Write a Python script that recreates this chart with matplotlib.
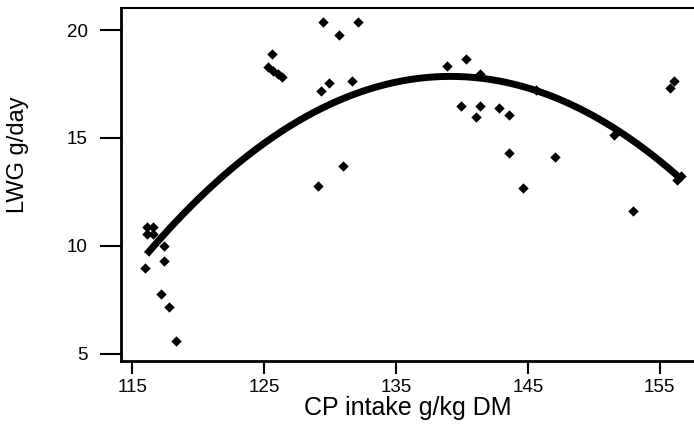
import numpy as np
import matplotlib
matplotlib.use("Agg")
import matplotlib.pyplot as plt

plt.rcParams['font.family'] = ['Liberation Sans', 'DejaVu Sans']

# CP intake (g/kg DM) and LWG (g/day) observations
cp_intake = [129.5, 132.1, 130.7, 125.6, 125.3, 125.7, 126.1, 126.4,
             129.3, 129.9, 131.7, 131.0, 129.1,
             138.9, 140.3, 141.35, 145.6, 139.9, 141.35, 141.1, 142.8,
             143.6, 143.6, 147.1, 144.6, 151.5, 156.05, 155.8, 156.3,
             156.6, 153.0,
             116.1, 116.6, 116.1, 116.6, 117.45, 117.45, 116.0, 117.2,
             117.8, 118.3]
lwg = [20.38, 20.38, 19.77, 18.87, 18.3, 18.1, 17.95, 17.8,
       17.19, 17.53, 17.64, 13.72, 12.79,
       18.33, 18.64, 17.96, 17.22, 16.48, 16.48, 15.96, 16.37,
       16.07, 14.32, 14.13, 12.67, 15.14, 17.62, 17.3, 13.05,
       13.25, 11.63,
       10.87, 10.87, 10.56, 10.56, 10.01, 9.31, 8.98, 7.75,
       7.14, 5.6]

# Quadratic fit: y = peak_y - curv * (x - peak_x)^2
fit_peak_x = 139.13
fit_peak_y = 17.85
fit_curv = 0.01555
fit_range = [116.1, 156.6]

x_ticks = [115, 125, 135, 145, 155]
y_ticks = [5, 10, 15, 20]

fig = plt.figure(figsize=(6.94, 4.30), dpi=100)
ax = fig.add_axes([121/694, 1 - 361/430, (694-121)/694, (361-8)/430])

ax.scatter(cp_intake, lwg, marker='D', s=28, color='black', linewidths=0, zorder=3)

xf = np.linspace(fit_range[0], fit_range[1], 200)
yf = fit_peak_y - fit_curv * (xf - fit_peak_x) ** 2
ax.plot(xf, yf, color='black', linewidth=5, solid_capstyle='butt', zorder=2)

ax.set_xlim(114.16, 157.6)
ax.set_ylim(4.66, 21.02)
ax.set_xticks(x_ticks)
ax.set_yticks(y_ticks)
ax.set_xticklabels([str(t) for t in x_ticks])
ax.set_yticklabels([str(t) for t in y_ticks])

for s in ['left', 'bottom']:
    ax.spines[s].set_linewidth(2)
ax.spines['top'].set_linewidth(1.5)
ax.spines['right'].set_visible(False)

ax.tick_params(axis='x', length=9, width=1.5, labelsize=13.5, pad=4)
ax.tick_params(axis='y', length=15, width=1.5, labelsize=13.5, pad=9)

ax.set_xlabel('CP intake g/kg DM', fontsize=18, labelpad=0)
ax.set_ylabel('LWG g/day', fontsize=17)
ax.yaxis.set_label_coords((29 - 121) / 573, (361 - 155) / 353)

fig.savefig('out.png', dpi=100)
